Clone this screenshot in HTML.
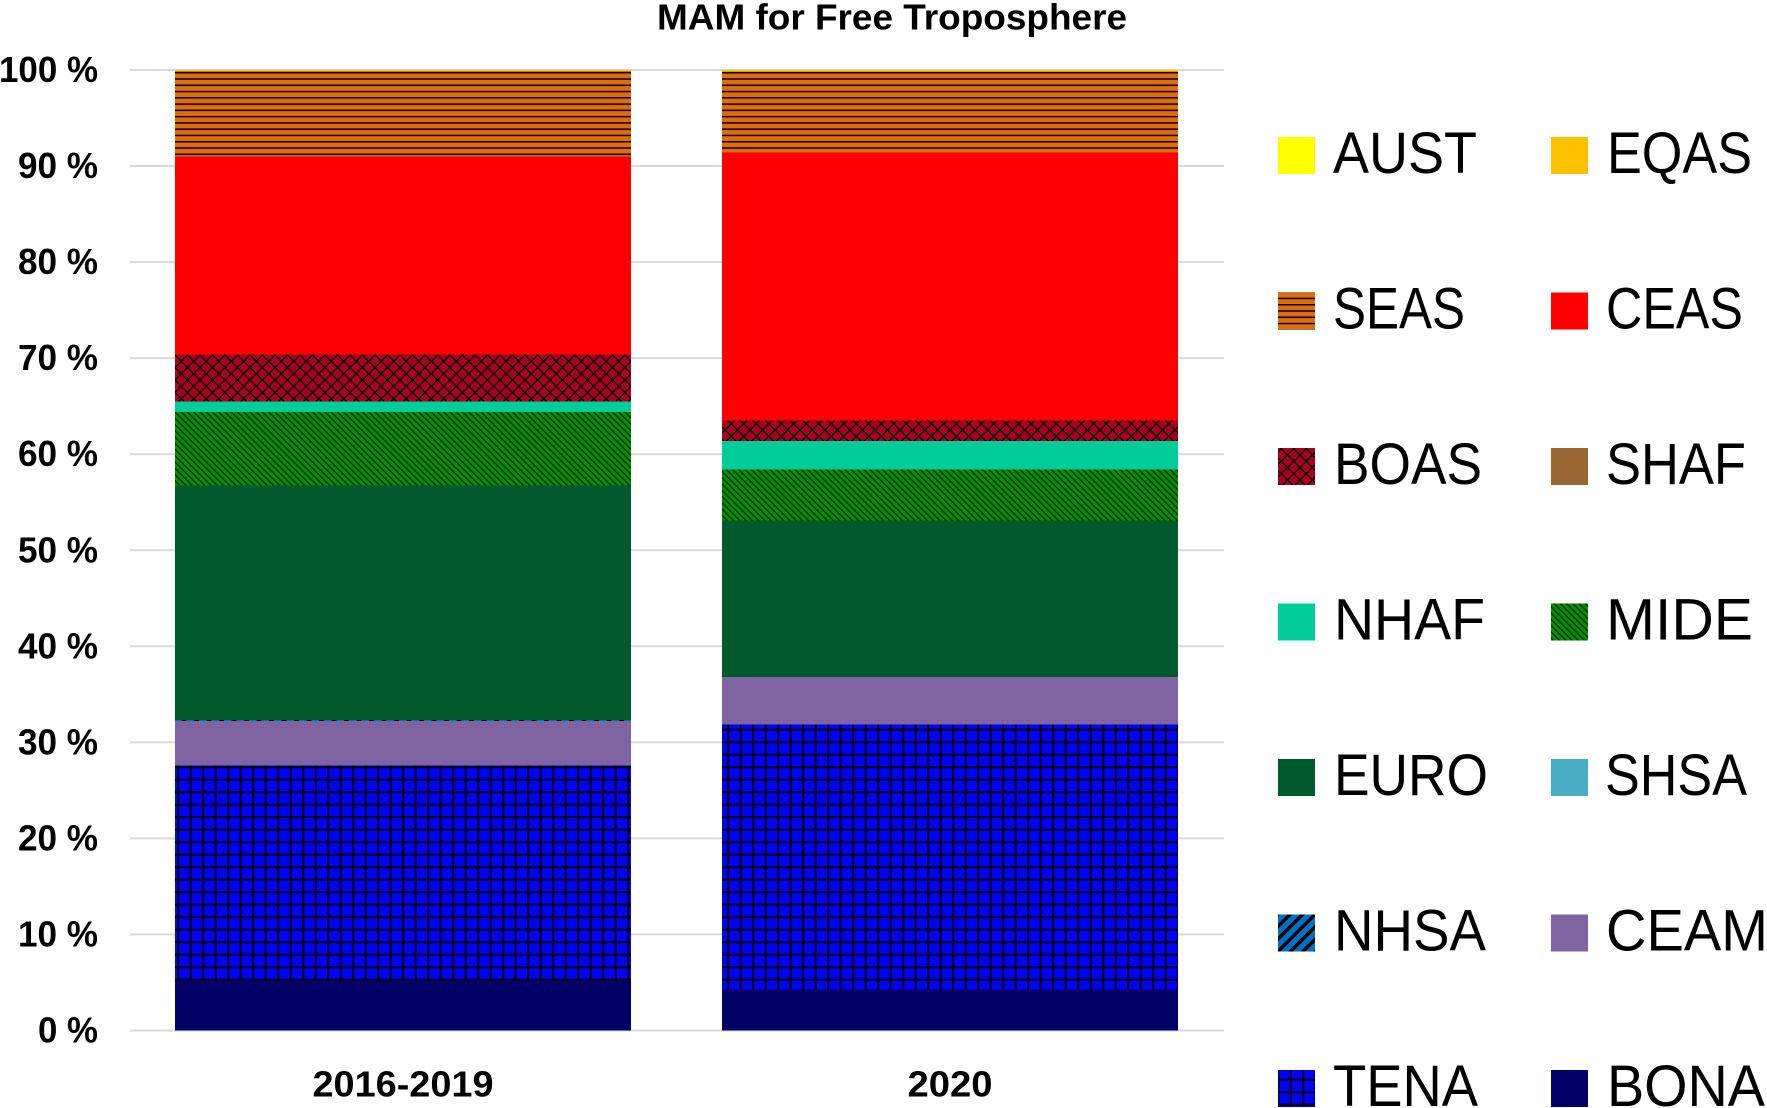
<!DOCTYPE html>
<html lang="en">
<head>
<meta charset="utf-8">
<title>MAM for Free Troposphere</title>
<style>
html,body{margin:0;padding:0;background:#fff;width:1767px;height:1108px;overflow:hidden}
svg{display:block}
text{font-family:"Liberation Sans",sans-serif;fill:#000}
.bold{font-weight:bold;font-size:36px}
.leg{font-size:58px}
</style>
</head>
<body>
<svg id="chart" xmlns="http://www.w3.org/2000/svg" width="1767" height="1108" viewBox="0 0 1767 1108">
<defs>
  <pattern id="p-seas" patternUnits="userSpaceOnUse" x="0" y="72" width="10" height="6.27">
    <rect width="10" height="6.27" fill="#e36c0a"/>
    <rect y="0" width="10" height="1.5" fill="#000"/>
  </pattern>
  <pattern id="p-tena" patternUnits="userSpaceOnUse" x="177.2" y="766.2" width="12.5" height="12.5">
    <rect width="12.5" height="12.5" fill="#0000ff"/>
    <rect width="2" height="12.5" fill="#000"/>
    <rect width="12.5" height="2" fill="#000"/>
  </pattern>
  <pattern id="p-boas" patternUnits="userSpaceOnUse" x="175" y="355" width="12.5" height="12.5">
    <rect width="12.5" height="12.5" fill="#a50021"/>
    <path d="M0 0L12.5 12.5M12.5 0L0 12.5" stroke="#000" stroke-width="1.3" fill="none"/>
    <rect x="5.2" y="5.2" width="2.1" height="2.1" fill="#000"/>
    <rect x="0" y="0" width="1.1" height="1.1" fill="#000"/>
    <rect x="11.4" y="0" width="1.1" height="1.1" fill="#000"/>
    <rect x="0" y="11.4" width="1.1" height="1.1" fill="#000"/>
    <rect x="11.4" y="11.4" width="1.1" height="1.1" fill="#000"/>
  </pattern>
  <pattern id="p-mide" patternUnits="userSpaceOnUse" x="175" y="412" width="6.25" height="6.25">
    <rect width="6.25" height="6.25" fill="#009000"/>
    <path d="M-1 -1L7.25 7.25M-4.125 2.125L3.125 9.375M2.125 -4.125L9.375 3.125" stroke="#002a00" stroke-width="1.4" fill="none"/>
  </pattern>
  <pattern id="p-nhsa" patternUnits="userSpaceOnUse" x="1278" y="914" width="12.5" height="12.5">
    <rect width="12.5" height="12.5" fill="#0070c0"/>
    <path d="M-2 14.5L14.5 -2M-8 8L8 -8M4.5 20.5L20.5 4.5" stroke="#000" stroke-width="3.4"/>
  </pattern>
</defs>
<g id="gridlines"></g>
<g id="bars"></g>
<g id="yaxis"></g>
<g id="xaxis"></g>
<g id="legend"></g>
<text class="bold" x="892" y="29.5" text-anchor="middle" textLength="470" lengthAdjust="spacingAndGlyphs">MAM for Free Troposphere</text>
</svg>
<script>
const categories = ['2016-2019', '2020'];
const yTicks = [0, 10, 20, 30, 40, 50, 60, 70, 80, 90, 100];
const seriesNames = ['BONA','TENA','CEAM','NHSA','SHSA','EURO','MIDE','NHAF','SHAF','BOAS','CEAS','SEAS','EQAS','AUST'];
const BONA = [5.15, 4.26];
const TENA = [22.45, 27.59];
const CEAM = [4.6, 4.95];
const NHSA = [0.15, 0];
const SHSA = [0, 0];
const EURO = [24.4, 16.3];
const MIDE = [7.65, 5.3];
const NHAF = [1.1, 3.0];
const SHAF = [0, 0];
const BOAS = [4.86, 2.1];
const CEAS = [20.64, 27.9];
const SEAS = [8.9, 8.45];
const EQAS = [0.1, 0.15];
const AUST = [0, 0];
const seriesValues = {BONA,TENA,CEAM,NHSA,SHSA,EURO,MIDE,NHAF,SHAF,BOAS,CEAS,SEAS,EQAS,AUST};
const legendOrder = [['AUST','EQAS'],['SEAS','CEAS'],['BOAS','SHAF'],['NHAF','MIDE'],['EURO','SHSA'],['NHSA','CEAM'],['TENA','BONA']];

const fills = {BONA:'#000066',TENA:'url(#p-tena)',CEAM:'#8064a2',NHSA:'url(#p-nhsa)',SHSA:'#4bacc6',EURO:'#005a2b',MIDE:'url(#p-mide)',NHAF:'#00cc99',SHAF:'#996633',BOAS:'url(#p-boas)',CEAS:'#ff0000',SEAS:'url(#p-seas)',EQAS:'#ffc000',AUST:'#ffff00'};
const labelX = {AUST:1333,SEAS:1333,BOAS:1334,NHAF:1334,EURO:1334,NHSA:1334,TENA:1333,EQAS:1607,CEAS:1606,SHAF:1606,MIDE:1606,SHSA:1605,CEAM:1606,BONA:1607};
const labelW = {AUST:144,SEAS:132,BOAS:148,NHAF:151,EURO:154,NHSA:152,TENA:145,EQAS:145,CEAS:137,SHAF:140,MIDE:147,SHSA:142,CEAM:162,BONA:158};

const NS = 'http://www.w3.org/2000/svg';
function make(tag, parent, attrs) {
  const el = document.createElementNS(NS, tag);
  for (const k in attrs) el.setAttribute(k, attrs[k]);
  parent.appendChild(el);
  return el;
}
const yScale = v => 1030.5 - 9.605 * v;
const barLeft = i => 175 + i * 547;
const barWidth = 456;
const slug = s => s.toLowerCase().replace(/[^a-z0-9]+/g, '-');

const gGrid = document.getElementById('gridlines');
const gY = document.getElementById('yaxis');
yTicks.forEach(t => {
  const line = make('rect', gGrid, {x:130, y:yScale(t)-1, width:1094, height:2, fill:'#d9d9d9'});
  
  
  const label = make('text', gY, {x:98, y:yScale(t)+12, 'text-anchor':'end', class:'bold', lengthAdjust:'spacingAndGlyphs', textLength: t===100 ? 99 : (t===0 ? 60 : 80)});
  
  
  label.textContent = t + ' %';
});

const gBars = document.getElementById('bars');
categories.forEach((c, i) => {
  let cum = 0;
  seriesNames.forEach(name => {
    const v = seriesValues[name][i];
    if (v > 0) {
      const top = yScale(cum + v), bottom = yScale(cum);
      const r = make('rect', gBars, {x:barLeft(i), y:top, width:barWidth, height:bottom-top, fill:fills[name], 'shape-rendering':'crispEdges'});
      
      
    }
    cum += v;
  });
  const label = make('text', document.getElementById('xaxis'), {x:barLeft(i)+barWidth/2, y:1096.5, 'text-anchor':'middle', class:'bold', lengthAdjust:'spacingAndGlyphs', textLength: c.length > 4 ? 181 : 85});
  
  
  label.textContent = c;
});

const gLeg = document.getElementById('legend');
legendOrder.forEach((row, r) => {
  const top = 137 + r * 155.5;
  row.forEach((name, col) => {
    const sw = make('rect', gLeg, {x:col ? 1551 : 1278, y:top, width:37, height:37, fill:fills[name], 'shape-rendering':'crispEdges'});
    
    
    const t = make('text', gLeg, {x:labelX[name], y:top+36, class:'leg', lengthAdjust:'spacingAndGlyphs', textLength:labelW[name]});
    
    
    t.textContent = name;
  });
});
</script>
</body>
</html>
